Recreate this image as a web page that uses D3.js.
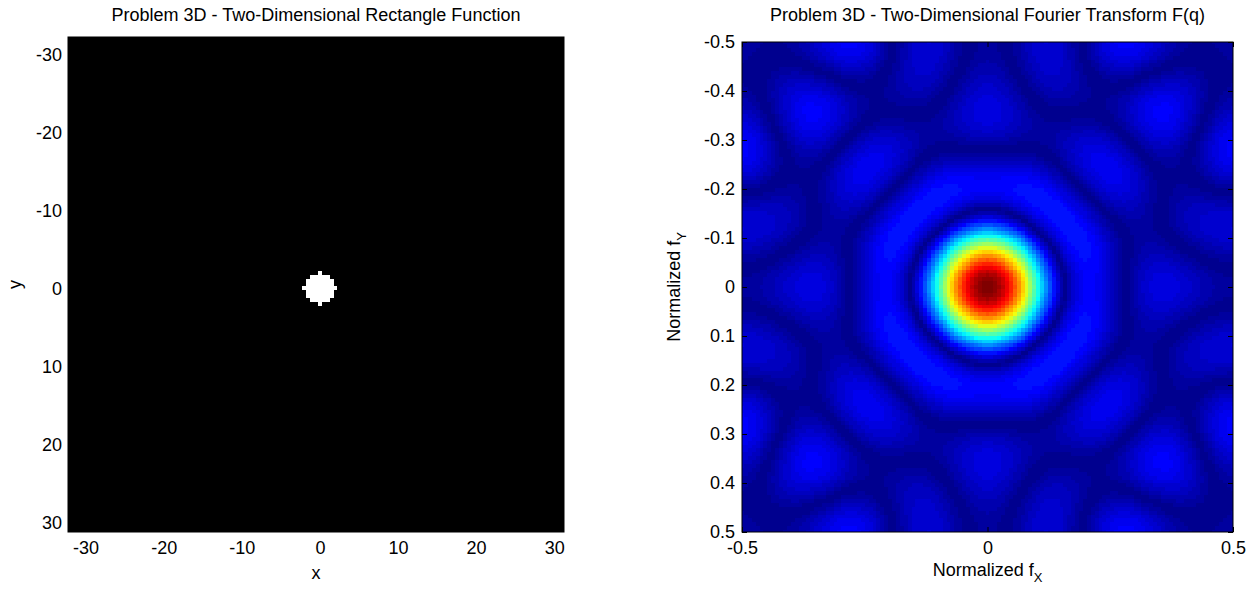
<!DOCTYPE html>
<html>
<head>
<meta charset="utf-8">
<script src="https://cdn.jsdelivr.net/npm/d3@7"></script>
<style>
  body { margin: 0; background: #fff; }
  text { font-family: "Liberation Sans", Arial, sans-serif; fill: #000; }
</style>
</head>
<body>
<div id="chart"></div>
<script>
// rect function samples ('#' = 1), centre row / column is sample 0
const diskRows = [
    "....#....",
    "..#####..",
    ".#######.",
    ".#######.",
    "#########",
    ".#######.",
    ".#######.",
    "..#####..",
    "....#...."
];
const sampleSpacing = 0.5;
const spaceExtent = [-32.25, 31.25];
const spaceTicks = [-30, -20, -10, 0, 10, 20, 30];

const freqCount = 127;
const freqExtent = [-0.5, 0.5];
const fxTicks = [-0.5, 0, 0.5];
const fyTicks = [-0.5, -0.4, -0.3, -0.2, -0.1, 0, 0.1, 0.2, 0.3, 0.4, 0.5];

const titles = [
    "Problem 3D - Two-Dimensional Rectangle Function",
    "Problem 3D - Two-Dimensional Fourier Transform F(q)"
];

// panel boxes in the page
const left = { x0: 68, x1: 564, y0: 37, y1: 532 };
const right = { x0: 742, x1: 1233, y0: 42, y1: 532 };
const fontSize = 18;
const subSize = 13;
const tickLen = 5;

const svg = d3.select("#chart")
    .append("svg")
    .attr("width", 1252)
    .attr("height", 590);

// MATLAB jet(64)
function jet64() {
    const u = [];
    for (let t = 1; t <= 16; t++) u.push(t / 16);
    for (let t = 0; t < 15; t++) u.push(1);
    for (let t = 16; t >= 1; t--) u.push(t / 16);
    const at = (k) => (k >= 1 && k <= u.length) ? u[k - 1] : 0;
    const cols = [];
    for (let i = 1; i <= 64; i++) {
        cols.push(d3.rgb(at(i - 24) * 255, at(i - 8) * 255, at(i + 8) * 255).toString());
    }
    return cols;
}

function drawAxes(g, box, xs, ys, xTicks, yTicks, xPad, yPad) {
    g.append("g")
        .attr("transform", `translate(0,${box.y1})`)
        .call(d3.axisBottom(xs).tickValues(xTicks).tickSizeInner(-tickLen).tickSizeOuter(0)
            .tickPadding(xPad).tickFormat(d => String(d)));
    g.append("g")
        .attr("transform", `translate(0,${box.y0})`)
        .call(d3.axisTop(xs).tickValues(xTicks).tickSizeInner(-tickLen).tickSizeOuter(0).tickFormat(""));
    g.append("g")
        .attr("transform", `translate(${box.x0},0)`)
        .call(d3.axisLeft(ys).tickValues(yTicks).tickSizeInner(-tickLen).tickSizeOuter(0)
            .tickPadding(yPad).tickFormat(d => String(d)));
    g.append("g")
        .attr("transform", `translate(${box.x1},0)`)
        .call(d3.axisRight(ys).tickValues(yTicks).tickSizeInner(-tickLen).tickSizeOuter(0).tickFormat(""));
    g.selectAll(".domain").remove();
    g.selectAll(".tick line").attr("stroke", "#000");
    g.selectAll(".tick text")
        .attr("font-size", fontSize)
        .attr("font-family", "Liberation Sans, Arial, sans-serif")
        .attr("fill", "#000");
    g.append("rect")
        .attr("x", box.x0)
        .attr("y", box.y0)
        .attr("width", box.x1 - box.x0)
        .attr("height", box.y1 - box.y0)
        .attr("fill", "none")
        .attr("stroke", "#000")
        .attr("stroke-width", 1);
}

// ---------- left panel: the rect function ----------
const diskPixels = [];
const c0 = (diskRows.length - 1) / 2;
diskRows.forEach((row, i) => {
    row.split("").forEach((ch, j) => {
        if (ch === "#") diskPixels.push({ m: j - c0, n: i - c0 });
    });
});

const xs = d3.scaleLinear().domain(spaceExtent).range([left.x0, left.x1]);
const ys = d3.scaleLinear().domain(spaceExtent).range([left.y0, left.y1]);

const gl = svg.append("g");
gl.append("rect")
    .attr("x", xs(spaceExtent[0]))
    .attr("y", ys(spaceExtent[0]))
    .attr("width", xs(spaceExtent[1]) - xs(spaceExtent[0]))
    .attr("height", ys(spaceExtent[1]) - ys(spaceExtent[0]))
    .attr("fill", "#000");

const hs = sampleSpacing / 2;
gl.selectAll(".px")
    .data(diskPixels)
    .enter().append("rect")
    .attr("class", "px")
    .attr("shape-rendering", "crispEdges")
    .attr("fill", "#fff")
    .attr("x", d => xs(d.m * sampleSpacing - hs))
    .attr("y", d => ys(d.n * sampleSpacing - hs))
    .attr("width", d => xs(d.m * sampleSpacing + hs) - xs(d.m * sampleSpacing - hs))
    .attr("height", d => ys(d.n * sampleSpacing + hs) - ys(d.n * sampleSpacing - hs));

drawAxes(gl, left, xs, ys, spaceTicks, spaceTicks, 9, 6);

gl.append("text")
    .attr("x", (left.x0 + left.x1) / 2)
    .attr("y", 21)
    .attr("text-anchor", "middle")
    .attr("font-size", fontSize)
    .text(titles[0]);
gl.append("text")
    .attr("x", (left.x0 + left.x1) / 2)
    .attr("y", 579)
    .attr("text-anchor", "middle")
    .attr("font-size", fontSize)
    .text("x");
gl.append("text")
    .attr("transform", `translate(21,${(left.y0 + left.y1) / 2}) rotate(-90)`)
    .attr("text-anchor", "middle")
    .attr("font-size", fontSize)
    .text("y");

// ---------- right panel: |Fourier transform| of the samples above ----------
const half = (freqCount - 1) / 2;
const cellStep = (freqExtent[1] - freqExtent[0]) / (freqCount - 1);
const ftCells = [];
for (let i = 0; i < freqCount; i++) {
    for (let j = 0; j < freqCount; j++) {
        const fx = (j - half) / freqCount, fy = (i - half) / freqCount;
        let re = 0;
        diskPixels.forEach(p => { re += Math.cos(2 * Math.PI * (fx * p.m + fy * p.n)); });
        ftCells.push({
            px: freqExtent[0] + j * cellStep,
            py: freqExtent[0] + i * cellStep,
            v: Math.abs(re)
        });
    }
}

const fxs = d3.scaleLinear().domain(freqExtent).range([right.x0, right.x1]);
const fys = d3.scaleLinear().domain(freqExtent).range([right.y0, right.y1]);
const color = d3.scaleQuantize()
    .domain(d3.extent(ftCells, d => d.v))
    .range(jet64());

svg.append("clipPath").attr("id", "clip-ft")
    .append("rect")
    .attr("x", right.x0).attr("y", right.y0)
    .attr("width", right.x1 - right.x0).attr("height", right.y1 - right.y0);

const gr = svg.append("g");
gr.append("g")
    .attr("clip-path", "url(#clip-ft)")
    .selectAll("rect")
    .data(ftCells)
    .enter().append("rect")
    .attr("shape-rendering", "crispEdges")
    .attr("x", d => fxs(d.px - cellStep / 2))
    .attr("y", d => fys(d.py - cellStep / 2))
    .attr("width", fxs(cellStep) - fxs(0) + 0.6)
    .attr("height", fys(cellStep) - fys(0) + 0.6)
    .attr("fill", d => color(d.v));

drawAxes(gr, right, fxs, fys, fxTicks, fyTicks, 9, 7);

gr.append("text")
    .attr("x", (right.x0 + right.x1) / 2)
    .attr("y", 21)
    .attr("text-anchor", "middle")
    .attr("font-size", fontSize)
    .text(titles[1]);

const xl = gr.append("text")
    .attr("x", (right.x0 + right.x1) / 2)
    .attr("y", 576)
    .attr("text-anchor", "middle")
    .attr("font-size", fontSize);
xl.append("tspan").text("Normalized f");
xl.append("tspan").attr("dy", 6).attr("font-size", subSize).text("X");

const yl = gr.append("text")
    .attr("transform", `translate(680,${(right.y0 + right.y1) / 2}) rotate(-90)`)
    .attr("text-anchor", "middle")
    .attr("font-size", fontSize);
yl.append("tspan").text("Normalized f");
yl.append("tspan").attr("dy", 6).attr("font-size", subSize).text("Y");
</script>
</body>
</html>
